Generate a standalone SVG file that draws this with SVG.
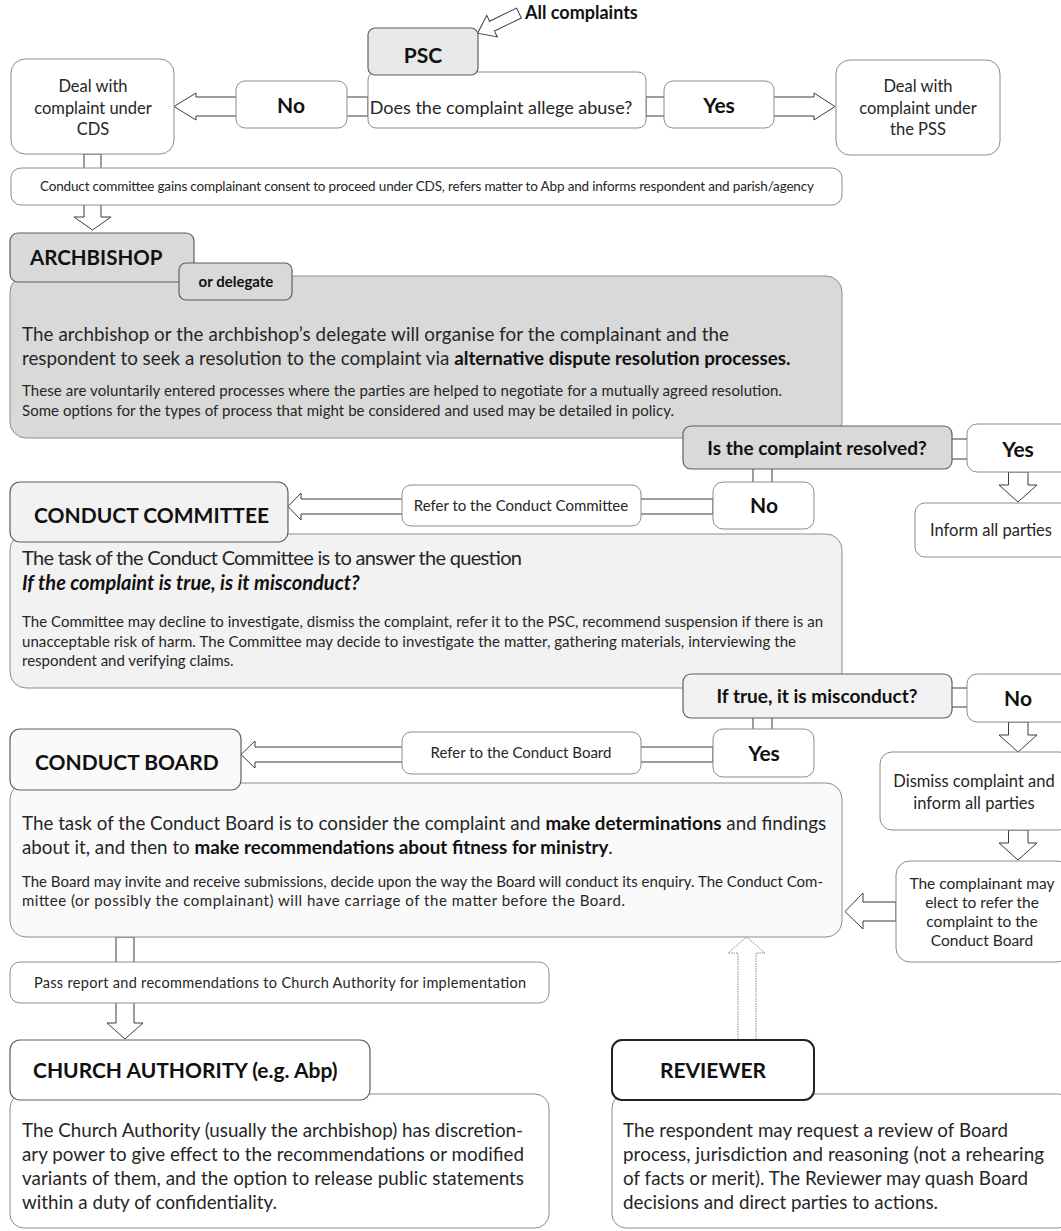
<svg xmlns="http://www.w3.org/2000/svg" width="1061" height="1231" viewBox="0 0 1061 1231">
<style>
text{font-family:Lato,"Liberation Sans",sans-serif;fill:#262626}
.b{font-weight:bold;fill:#111}
.box{fill:#fff;stroke:#8c8c8c;stroke-width:1}
.tab{stroke:#5f5f5f;stroke-width:1.2}
.arr{fill:#fff;stroke:#3c3c3c;stroke-width:1}
.ln{stroke:#3c3c3c;stroke-width:1;fill:none}
.c{text-anchor:middle}
.big{font-size:18.8px}
.big2{font-size:20px}
.big3{font-size:18.8px}
.sm{font-size:15px}
.lbl{font-size:16.5px}
.ref{font-size:15px}
.q{font-size:19px;font-weight:bold;fill:#111}
.yn{font-size:21px;font-weight:bold;fill:#111}
.hd{font-size:21px;font-weight:bold;fill:#111}
</style>
<rect width="1061" height="1231" fill="#fff"/>

<g id="connectors">
  <polygon class="arr" transform="translate(519,13) rotate(154)" points="0,-5.5 30,-5.5 30,-12 46,0 30,12 30,5.5 0,5.5"/>
  <polygon class="arr" points="368,97 196,97 196,93 174,106.5 196,120 196,116 368,116"/>
  <polygon class="arr" points="646,97 814,97 814,93 835,106.5 814,120 814,116 646,116"/>
  <polygon class="arr" points="84,154 84,217 74,217 92.5,230 111,217 101,217 101,154"/>
  <path class="ln" d="M952,439H967M952,459H967"/>
  <polygon class="arr" points="1008.5,472 1008.5,485 999,485 1018,502 1037,485 1028,485 1028,472"/>
  <path class="ln" d="M753,469V482M772,469V482"/>
  <polygon class="arr" points="713,499 301,499 301,493 288,506.5 301,520 301,514 713,514"/>
  <path class="ln" d="M952,688H967M952,707H967"/>
  <polygon class="arr" points="1008.5,722 1008.5,735 999,735 1018,752 1037,735 1028,735 1028,722"/>
  <path class="ln" d="M753,718V729M772,718V729"/>
  <polygon class="arr" points="713,747 255,747 255,741 241,754.5 255,768 255,762 713,762"/>
  <polygon class="arr" points="1008.5,830 1008.5,843 999,843 1018,860 1037,843 1028,843 1028,830"/>
  <polygon class="arr" points="896,902 863,902 863,893 845,911.5 863,929 863,921 896,921"/>
  <polygon class="arr" points="116,937 116,1023 107,1023 125,1039 143,1023 134,1023 134,937"/>
  <polygon fill="#fff" stroke="#8a8a8a" stroke-width="1" stroke-dasharray="1.5 1" points="738,1040 738,953 728,953 746.5,937 765,953 756,953 756,1040"/>
</g>

<g id="all-complaints">
  <text class="b" x="525" y="19" font-size="18">All complaints</text>
</g>

<g id="psc-question">
  <rect class="box" x="368" y="72" width="278" height="56" rx="8"/>
  <text class="c" x="501" y="114" font-size="18">Does the complaint allege abuse?</text>
</g>
<g id="psc">
  <rect class="tab" x="368" y="28" width="110" height="47" rx="7" fill="#e8e8e8"/>
  <text class="b c" x="423" y="63" font-size="21">PSC</text>
</g>
<g id="no-1">
  <rect class="box" x="236" y="81" width="111" height="47" rx="9"/>
  <text class="yn c" x="291" y="113">No</text>
</g>
<g id="yes-1">
  <rect class="box" x="664" y="81" width="110" height="47" rx="9"/>
  <text class="yn c" x="719" y="113">Yes</text>
</g>
<g id="cds">
  <rect class="box" x="11" y="59" width="163" height="95" rx="14"/>
  <text class="lbl c" x="93" y="92">Deal with</text>
  <text class="lbl c" x="93" y="114">complaint under</text>
  <text class="lbl c" x="93" y="135">CDS</text>
</g>
<g id="pss">
  <rect class="box" x="836" y="60" width="164" height="95" rx="14"/>
  <text class="lbl c" x="918" y="92">Deal with</text>
  <text class="lbl c" x="918" y="114">complaint under</text>
  <text class="lbl c" x="918" y="135">the PSS</text>
</g>
<g id="consent">
  <rect class="box" x="11" y="168" width="831" height="37" rx="10"/>
  <text class="c" x="427" y="191" font-size="13.5" textLength="774">Conduct committee gains complainant consent to proceed under CDS, refers matter to Abp and informs respondent and parish/agency</text>
</g>

<g id="archbishop">
  <rect x="10" y="276" width="832" height="162" rx="16" fill="#d9d9d9" stroke="#8c8c8c"/>
  <rect class="tab" x="10" y="233" width="184" height="49" rx="8" fill="#d9d9d9"/>
  <text class="b" x="30" y="265" font-size="20.5">ARCHBISHOP</text>
  <rect class="tab" x="179" y="263" width="113" height="37" rx="7" fill="#d9d9d9"/>
  <text class="b c" x="236" y="287" font-size="15">or delegate</text>
  <text class="big" x="22" y="341" textLength="707">The archbishop or the archbishop’s delegate will organise for the complainant and the</text>
  <text class="big" x="22" y="365">respondent to seek a resolution to the complaint via <tspan class="b">alternative dispute resolution processes.</tspan></text>
  <text class="sm" x="22" y="396" textLength="760">These are voluntarily entered processes where the parties are helped to negotiate for a mutually agreed resolution.</text>
  <text class="sm" x="22" y="416" textLength="652">Some options for the types of process that might be considered and used may be detailed in policy.</text>
</g>

<g id="resolved">
  <rect class="tab" x="683" y="426" width="269" height="43" rx="8" fill="#d9d9d9"/>
  <text class="q c" x="817" y="455">Is the complaint resolved?</text>
</g>
<g id="yes-2">
  <rect class="box" x="967" y="424" width="104" height="48" rx="10"/>
  <text class="yn c" x="1018" y="457">Yes</text>
</g>
<g id="inform">
  <rect class="box" x="915" y="503" width="156" height="54" rx="10"/>
  <text class="lbl" x="930" y="536">Inform all parties</text>
</g>
<g id="no-2">
  <rect class="box" x="713" y="482" width="101" height="47" rx="10"/>
  <text class="yn c" x="764" y="513">No</text>
</g>
<g id="refer-cc">
  <rect class="box" x="402" y="485" width="239" height="41" rx="9"/>
  <text class="ref c" x="521" y="511">Refer to the Conduct Committee</text>
</g>

<g id="conduct-committee">
  <rect x="10" y="534" width="832" height="154" rx="16" fill="#f2f2f2" stroke="#8c8c8c"/>
  <rect class="tab" x="10" y="482" width="278" height="60" rx="10" fill="#f2f2f2"/>
  <text class="hd" x="34" y="523">CONDUCT COMMITTEE</text>
  <text class="big2" x="22" y="565" textLength="500">The task of the Conduct Committee is to answer the question</text>
  <text class="b" x="22" y="590" font-size="20" font-style="italic">If the complaint is true, is it misconduct?</text>
  <text class="sm" x="22" y="627" textLength="801">The Committee may decline to investigate, dismiss the complaint, refer it to the PSC, recommend suspension if there is an</text>
  <text class="sm" x="22" y="647" textLength="774">unacceptable risk of harm. The Committee may decide to investigate the matter, gathering materials, interviewing the</text>
  <text class="sm" x="22" y="666">respondent and verifying claims.</text>
</g>

<g id="misconduct">
  <rect class="tab" x="683" y="674" width="269" height="44" rx="8" fill="#f2f2f2"/>
  <text class="q c" x="817" y="703">If true, it is misconduct?</text>
</g>
<g id="no-3">
  <rect class="box" x="967" y="674" width="104" height="48" rx="10"/>
  <text class="yn c" x="1018" y="706">No</text>
</g>
<g id="dismiss">
  <rect class="box" x="880" y="752" width="191" height="78" rx="12"/>
  <text class="lbl c" x="974" y="787">Dismiss complaint and</text>
  <text class="lbl c" x="974" y="809">inform all parties</text>
</g>
<g id="yes-3">
  <rect class="box" x="713" y="729" width="101" height="48" rx="10"/>
  <text class="yn c" x="764" y="761">Yes</text>
</g>
<g id="refer-cb">
  <rect class="box" x="402" y="732" width="239" height="42" rx="9"/>
  <text class="ref c" x="521" y="758">Refer to the Conduct Board</text>
</g>

<g id="conduct-board">
  <rect x="10" y="783" width="832" height="154" rx="16" fill="#fafafa" stroke="#8c8c8c"/>
  <rect class="tab" x="10" y="729" width="231" height="61" rx="10" fill="#fafafa"/>
  <text class="hd" x="35" y="770">CONDUCT BOARD</text>
  <text class="big" x="22" y="830">The task of the Conduct Board is to consider the complaint and <tspan class="b">make determinations</tspan> and findings</text>
  <text class="big" x="22" y="854">about it, and then to <tspan class="b">make recommendations about fitness for ministry</tspan>.</text>
  <text class="sm" x="22" y="887" textLength="801">The Board may invite and receive submissions, decide upon the way the Board will conduct its enquiry. The Conduct Com-</text>
  <text class="sm" x="22" y="906" textLength="603">mittee (or possibly the complainant) will have carriage of the matter before the Board.</text>
</g>

<g id="complainant-refer">
  <rect class="box" x="896" y="861" width="175" height="101" rx="14"/>
  <text class="c" x="982" y="889" font-size="15.5">The complainant may</text>
  <text class="c" x="982" y="908" font-size="15.5">elect to refer the</text>
  <text class="c" x="982" y="927" font-size="15.5">complaint to the</text>
  <text class="c" x="982" y="946" font-size="15.5">Conduct Board</text>
</g>

<g id="pass-report">
  <rect class="box" x="10" y="962" width="539" height="41" rx="10"/>
  <text class="c" x="280" y="988" font-size="14.5" textLength="492">Pass report and recommendations to Church Authority for implementation</text>
</g>

<g id="church-authority">
  <rect class="box" x="10" y="1094" width="539" height="134" rx="14"/>
  <rect class="box tab" x="10" y="1040" width="360" height="60" rx="10"/>
  <text class="hd" x="33" y="1078" font-size="21.5">CHURCH AUTHORITY (e.g. Abp)</text>
  <text class="big3" x="22" y="1137" textLength="501">The Church Authority (usually the archbishop) has discretion-</text>
  <text class="big3" x="22" y="1161" textLength="502">ary power to give effect to the recommendations or modified</text>
  <text class="big3" x="22" y="1185" textLength="502">variants of them, and the option to release public statements</text>
  <text class="big3" x="22" y="1209" textLength="255">within a duty of confidentiality.</text>
</g>

<g id="reviewer">
  <rect class="box" x="612" y="1094" width="460" height="134" rx="14"/>
  <rect x="612" y="1040" width="202" height="60" rx="10" fill="#fff" stroke="#222" stroke-width="2"/>
  <text class="hd c" x="713" y="1078">REVIEWER</text>
  <text class="big3" x="623" y="1137" textLength="385">The respondent may request a review of Board</text>
  <text class="big3" x="623" y="1161" textLength="421">process, jurisdiction and reasoning (not a rehearing</text>
  <text class="big3" x="623" y="1185" textLength="405">of facts or merit). The Reviewer may quash Board</text>
  <text class="big3" x="623" y="1209" textLength="315">decisions and direct parties to actions.</text>
</g>
</svg>
